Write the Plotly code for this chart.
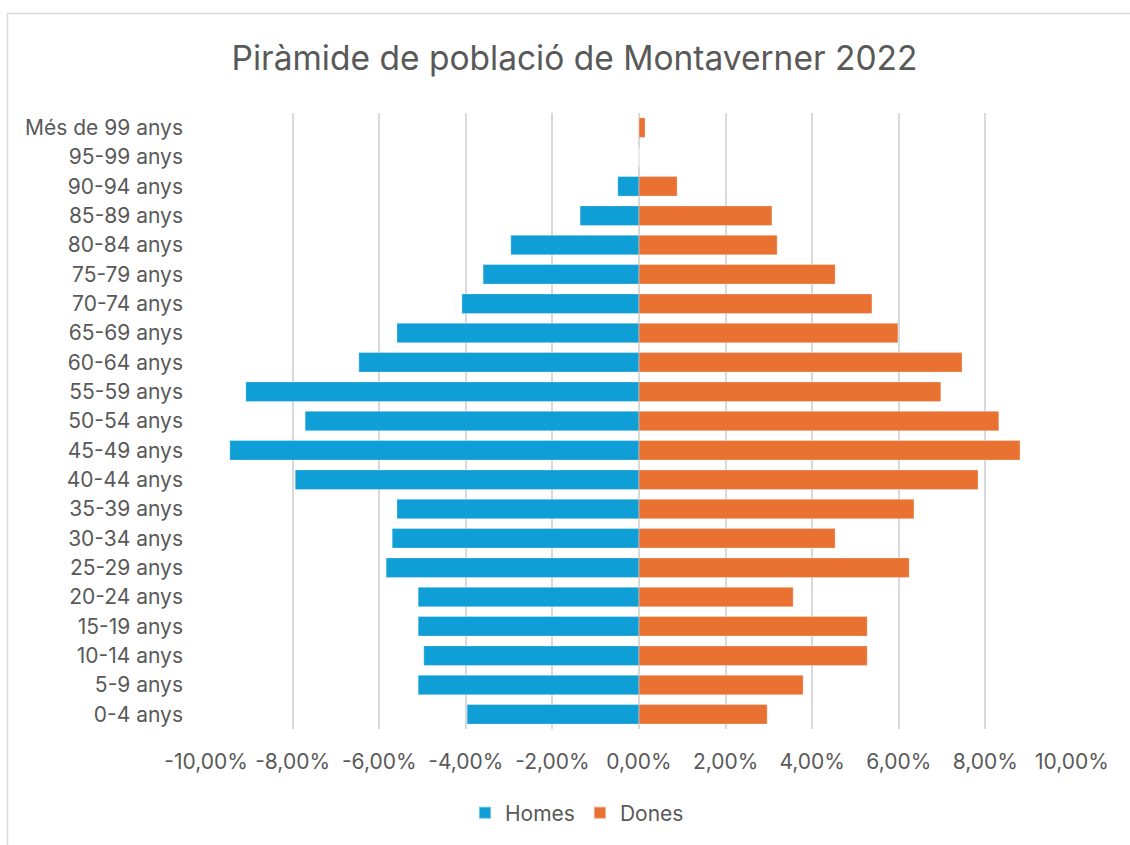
import plotly.graph_objects as go

categories = ["0-4 anys", "5-9 anys", "10-14 anys", "15-19 anys", "20-24 anys",
              "25-29 anys", "30-34 anys", "35-39 anys", "40-44 anys", "45-49 anys",
              "50-54 anys", "55-59 anys", "60-64 anys", "65-69 anys", "70-74 anys",
              "75-79 anys", "80-84 anys", "85-89 anys", "90-94 anys", "95-99 anys",
              "Més de 99 anys"]

# percentages (%)
homes = [3.97, 5.10, 4.97, 5.10, 5.10, 5.84, 5.70, 5.59, 7.94, 9.45,
         7.71, 9.08, 6.47, 5.59, 4.09, 3.60, 2.96, 1.36, 0.49, 0.0, 0.0]
dones = [2.96, 3.79, 5.27, 5.27, 3.56, 6.24, 4.53, 6.35, 7.83, 8.80,
         8.31, 6.97, 7.46, 5.98, 5.38, 4.53, 3.19, 3.07, 0.88, 0.0, 0.14]

tick_vals = [-10, -8, -6, -4, -2, 0, 2, 4, 6, 8, 10]
tick_text = ["-10,00%", "-8,00%", "-6,00%", "-4,00%", "-2,00%", "0,00%",
             "2,00%", "4,00%", "6,00%", "8,00%", "10,00%"]

FONT = "Inter"
TXT = "#595959"
GRID = "#d9d9d9"

fig = go.Figure()
fig.add_trace(go.Bar(
    y=categories, x=[-v for v in homes], name="Homes", orientation="h",
    marker=dict(color="#0F9ED5", line=dict(color="rgba(255,255,255,0.4)", width=0.8)),
))
fig.add_trace(go.Bar(
    y=categories, x=dones, name="Dones", orientation="h",
    marker=dict(color="#E97132", line=dict(color="rgba(255,255,255,0.4)", width=0.8)),
))

W, H = 1130, 845
L, R, T, B = 206, 1072, 113, 729
pw, ph = R - L, B - T

def px(xp):
    return (xp - L) / pw

def py(yp):
    return (B - yp) / ph

fig.update_layout(
    width=W, height=H,
    barmode="overlay",
    bargap=0.333,
    plot_bgcolor="white",
    paper_bgcolor="white",
    margin=dict(l=L, r=W - R, t=T, b=H - B),
    font=dict(family=FONT, color=TXT, size=21),
    title=dict(text="Piràmide de població de Montaverner 2022",
               font=dict(family=FONT, size=33.5, color=TXT),
               x=574.5 / W, xref="container", xanchor="center",
               y=1 - 58 / H, yref="container", yanchor="middle"),
    xaxis=dict(range=[-10, 10], tickvals=tick_vals, ticktext=tick_text,
               showgrid=True, gridcolor=GRID, gridwidth=1.6,
               zeroline=True, zerolinecolor=GRID, zerolinewidth=1.6,
               showline=False, ticks="", ticklabelstandoff=18,
               tickfont=dict(size=21, color=TXT), fixedrange=True),
    yaxis=dict(showgrid=False, zeroline=False, showline=False, ticks="",
               ticklabelstandoff=22, tickfont=dict(size=21, color=TXT),
               categoryorder="array", categoryarray=categories),
    legend=dict(orientation="h", xref="container", yref="container",
                x=577 / W, xanchor="center", y=1 - 813 / H, yanchor="middle",
                font=dict(size=21, color=TXT), traceorder="normal",
                itemwidth=30, itemsizing="constant"),
    shapes=[dict(type="rect", xref="paper", yref="paper",
                 x0=px(7.5), x1=px(1140), y0=py(13.5), y1=py(860),
                 line=dict(color=GRID, width=1.5), fillcolor="rgba(0,0,0,0)",
                 layer="below")],
    showlegend=True,
)

fig.write_html("out.html", config={"displayModeBar": False},
               post_script="document.body.style.margin='0';document.body.style.padding='0';")
